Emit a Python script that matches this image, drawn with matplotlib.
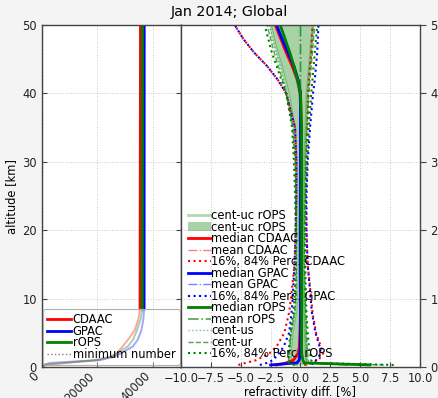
import matplotlib
matplotlib.use("Agg")
import matplotlib.pyplot as plt
import numpy as np

# ---------------- data ----------------
# left panel: number of profiles
alt_n = [0, 0.3, 0.6, 1, 1.5, 2, 3, 4, 5.4, 7, 8.5, 50]
n_cdaac = [0, 1500, 9000, 20000, 25000, 27000, 29000, 31000, 33400, 34700, 35300, 35460]
n_gpac = [0, 500, 3000, 20800, 26000, 28500, 32700, 34500, 35800, 36500, 36750, 36790]
n_rops = [0, 0, 8000, 19000, 24500, 27000, 30900, 32800, 34200, 35500, 36100, 36180]
alt_min = [0, 50]
n_min = [50, 50]
thick_from = 8.5

# right panel: refractivity differences [%]
alt = [0.3, 0.6, 1, 2, 3, 5, 8, 10, 15, 20, 25, 30, 35, 40, 42, 44, 46, 48, 50]
med_cdaac = [-2.0, -1.2, -0.6, -0.2, -0.1, -0.05, 0.0, 0.0, 0.0, 0.02, 0.05, 0.05, 0.05, 0.0, -0.25, -0.7, -1.2, -1.65, -2.1]
mean_cdaac = [-1.6, -1.0, -0.5, -0.2, -0.1, -0.05, 0.0, 0.0, 0.0, 0.02, 0.05, 0.05, 0.0, -0.1, -0.35, -0.75, -1.25, -1.7, -2.2]
p16_cdaac = [-5.2, -4.6, -3.7, -2.6, -2.0, -1.35, -0.95, -0.8, -0.5, -0.4, -0.35, -0.35, -0.45, -1.2, -1.9, -2.8, -3.9, -4.8, -5.5]
p84_cdaac = [0.3, 1.0, 1.5, 1.9, 1.7, 1.3, 1.0, 0.9, 0.6, 0.5, 0.45, 0.5, 0.6, 0.65, 0.7, 0.8, 0.9, 0.95, 1.0]

med_gpac = [-2.5, -0.3, -0.1, -0.05, 0.0, 0.0, 0.0, 0.0, 0.0, 0.0, 0.0, 0.0, 0.0, 0.0, -0.2, -0.55, -1.05, -1.55, -2.0]
mean_gpac = [-1.8, -0.4, -0.2, -0.1, -0.05, 0.0, 0.0, 0.0, 0.0, 0.0, 0.0, 0.0, 0.0, -0.1, -0.3, -0.65, -1.1, -1.6, -2.05]
p16_gpac = [-3.4, -2.8, -2.3, -1.8, -1.4, -0.95, -0.75, -0.65, -0.5, -0.4, -0.35, -0.35, -0.45, -1.2, -1.9, -2.8, -3.9, -4.8, -5.5]
p84_gpac = [1.0, 1.0, 1.3, 1.7, 1.6, 1.25, 0.95, 0.85, 0.6, 0.5, 0.5, 0.6, 0.8, 1.05, 1.2, 1.3, 1.4, 1.45, 1.5]

med_rops = [5.8, 0.3, 0.2, 0.1, 0.1, 0.1, 0.1, 0.1, 0.1, 0.1, 0.1, 0.1, 0.1, 0.0, -0.25, -0.55, -0.9, -1.3, -1.7]
mean_rops = [4.0, 0.3, 0.15, 0.1, 0.1, 0.05, 0.05, 0.05, 0.05, 0.05, 0.05, 0.05, 0.05, 0.0, 0.0, 0.0, 0.0, 0.0, 0.0]
cuc_lo = [-0.3, -0.8, -0.85, -0.85, -0.8, -0.7, -0.4, -0.3, -0.25, -0.25, -0.3, -0.35, -0.55, -1.0, -1.3, -1.6, -1.95, -2.25, -2.5]
cuc_hi = [0.5, 0.5, 0.5, 0.45, 0.45, 0.4, 0.35, 0.3, 0.25, 0.25, 0.3, 0.35, 0.45, 0.55, 0.65, 0.75, 0.85, 0.95, 1.05]
cus_lo = [-0.4, -0.9, -0.9, -0.9, -0.85, -0.75, -0.45, -0.35, -0.3, -0.3, -0.35, -0.4, -0.6, -1.1, -1.4, -1.7, -2.05, -2.35, -2.6]
cus_hi = [6.5, 0.6, 0.55, 0.5, 0.5, 0.45, 0.4, 0.35, 0.3, 0.3, 0.35, 0.4, 0.5, 0.6, 0.7, 0.8, 0.9, 1.0, 1.1]
cur_lo = [-0.5, -1.0, -1.0, -0.95, -0.9, -0.8, -0.5, -0.4, -0.35, -0.35, -0.4, -0.45, -0.65, -1.2, -1.5, -1.85, -2.2, -2.5, -2.8]
cur_hi = [7.0, 0.7, 0.65, 0.6, 0.55, 0.5, 0.45, 0.4, 0.35, 0.35, 0.4, 0.45, 0.55, 0.7, 0.8, 0.9, 1.0, 1.1, 1.2]
p16_rops = [-0.5, -1.0, -1.0, -1.0, -0.95, -0.85, -0.6, -0.5, -0.4, -0.4, -0.45, -0.55, -0.7, -1.2, -1.6, -2.0, -2.4, -2.7, -3.0]
p84_rops = [7.8, 1.0, 0.9, 0.8, 0.7, 0.6, 0.5, 0.45, 0.4, 0.4, 0.45, 0.55, 0.7, 0.9, 1.0, 1.1, 1.2, 1.3, 1.4]

left_xticks = [0, 20000, 40000]
right_xticks = [-10, -7.5, -5, -2.5, 0, 2.5, 5, 7.5, 10]
yticks = [0, 10, 20, 30, 40, 50]
title = "Jan 2014; Global"

# ---------------- figure ----------------
FS = 8.3
plt.rcParams['font.family'] = ['DejaVu Sans']
bg = '#f4f4f4'
fig = plt.figure(figsize=(4.39, 3.98), dpi=100, facecolor=bg)
axl = fig.add_axes([41.7/439, 31/398, (181-41.7)/439, 342/398])
axr = fig.add_axes([181/439, 31/398, 239/439, 342/398])

spc = '#444444'
gridkw = dict(color='#c8c8c8', linestyle=':', linewidth=0.7)

# left panel
an = np.array(alt_n)
mask = an >= thick_from
for vals, col, lab in [(n_cdaac, 'r', 'CDAAC'), (n_gpac, 'b', 'GPAC'), (n_rops, 'g', 'rOPS')]:
    v = np.array(vals)
    axl.plot(v, an, color=col, lw=1.4, alpha=0.5)
    axl.plot(v[mask], an[mask], color=col, lw=2, label=lab)
axl.plot(n_min, alt_min, color='gray', lw=1, ls=':', label='minimum number')
axl.set_xlim(0, 50000)
axl.set_ylim(0, 50)
axl.set_xticks(left_xticks)
axl.set_xticklabels([str(t) for t in left_xticks], rotation=45, ha='right', fontsize=FS)
axl.set_yticks(yticks)
axl.tick_params(axis='y', labelsize=FS, direction='in', right=True, colors=spc, labelcolor='#222222')
axl.tick_params(axis='x', direction='in', colors=spc, labelcolor='#222222', pad=2)
axl.set_ylabel('altitude [km]', fontsize=FS, labelpad=3)
axl.grid(True, **gridkw)
leg = axl.legend(loc='lower left', fontsize=FS, labelspacing=-0.1, handletextpad=0.2,
                 handlelength=2.0, borderpad=0.35, borderaxespad=0.15)
fr = leg.get_frame()
fr.set_alpha(None)
fr.set_facecolor((1, 1, 1, 0.3))
fr.set_edgecolor('#b0b0b0')
fr.set_linewidth(0.8)

# right panel
a = np.array(alt)
axr.plot(cuc_lo, a, color='g', lw=2, alpha=0.3, label='cent-uc rOPS')
axr.plot(cuc_hi, a, color='g', lw=2, alpha=0.3)
axr.fill_betweenx(a, cuc_lo, cuc_hi, color='g', alpha=0.35, lw=0, label='cent-uc rOPS')
axr.plot(med_cdaac, a, color='r', lw=2, label='median CDAAC')
axr.plot(mean_cdaac, a, color='r', lw=1, ls='-.', alpha=0.5, label='mean CDAAC')
axr.plot(p16_cdaac, a, color='r', lw=1.5, ls=':', label='16%, 84% Perc. CDAAC')
axr.plot(p84_cdaac, a, color='r', lw=1.5, ls=':')
axr.plot(med_gpac, a, color='b', lw=2, label='median GPAC')
axr.plot(mean_gpac, a, color='b', lw=1, ls='-.', alpha=0.5, label='mean GPAC')
axr.plot(p16_gpac, a, color='b', lw=1.5, ls=':', label='16%, 84% Perc. GPAC')
axr.plot(p84_gpac, a, color='b', lw=1.5, ls=':')
axr.plot(med_rops, a, color='g', lw=2, label='median rOPS')
axr.plot(mean_rops, a, color='g', lw=1.2, ls='-.', alpha=0.7, label='mean rOPS')
axr.plot(cus_lo, a, color='g', lw=1, ls=':', alpha=0.5, label='cent-us')
axr.plot(cus_hi, a, color='g', lw=1, ls=':', alpha=0.5)
axr.plot(cur_lo, a, color='g', lw=1, ls='--', alpha=0.7, label='cent-ur')
axr.plot(cur_hi, a, color='g', lw=1, ls='--', alpha=0.7)
axr.plot(p16_rops, a, color='g', lw=1.5, ls=':', label='16%, 84% Perc. rOPS')
axr.plot(p84_rops, a, color='g', lw=1.5, ls=':')

axr.set_xlim(-10, 10)
axr.set_ylim(0, 50)
axr.set_xticks(right_xticks)
axr.set_xticklabels([f"{t:.1f}".replace('-', '\u2212') for t in right_xticks], fontsize=FS)
axr.set_yticks(yticks)
axr.yaxis.tick_right()
axr.tick_params(axis='y', labelsize=FS, colors=spc, labelcolor='#222222', direction='out', length=4)
axr.tick_params(axis='x', direction='in', colors=spc, labelcolor='#222222')
axr.set_xlabel('refractivity diff. [%]', fontsize=FS, labelpad=1)
axr.grid(True, **gridkw)
axr.legend(loc='lower left', fontsize=FS, labelspacing=-0.13, handletextpad=0.0,
           handlelength=2.0, borderpad=0.4, borderaxespad=0.2, frameon=False)

for ax in (axl, axr):
    for s in ax.spines.values():
        s.set_color(spc)
        s.set_linewidth(1.0)
    ax.set_facecolor('white')

fig.text(229/439, 1 - 12/398, title, ha='center', va='center', fontsize=10.3)

fig.savefig('out.png', dpi=100, facecolor=bg)
